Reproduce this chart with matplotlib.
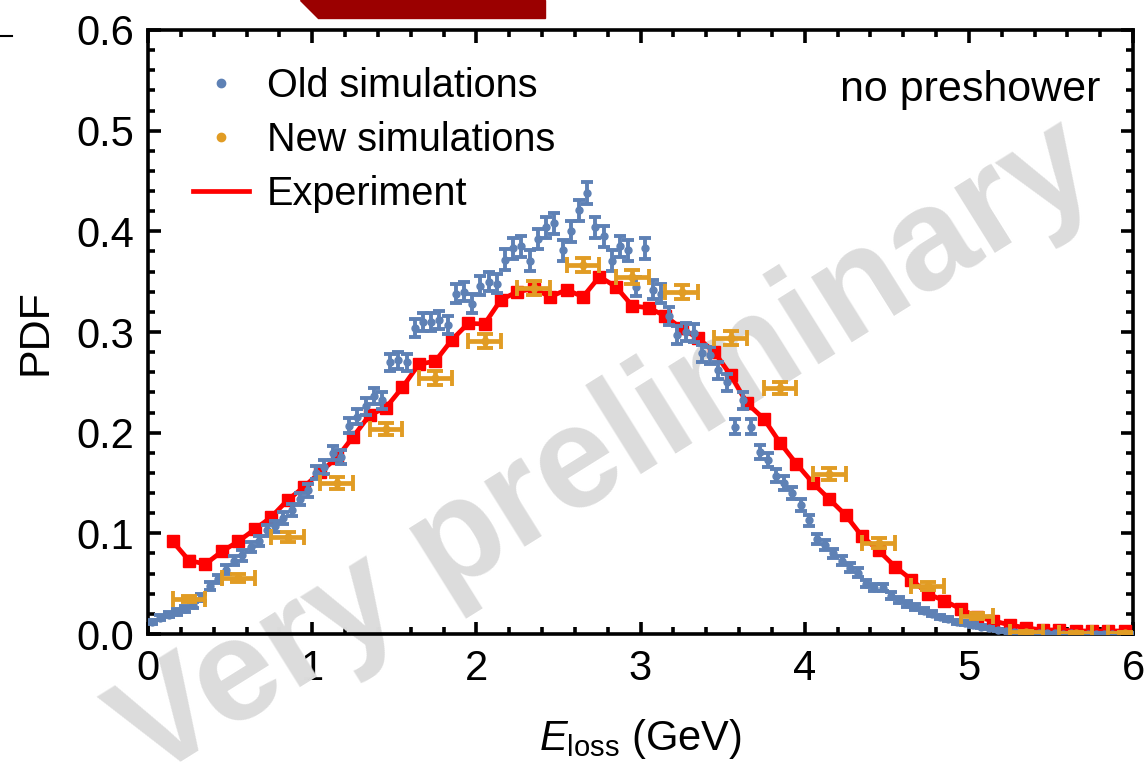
import numpy as np
import matplotlib.pyplot as plt
from matplotlib.lines import Line2D
from matplotlib.ticker import MultipleLocator, FormatStrFormatter

plt.rcParams['font.family'] = ['Liberation Sans', 'DejaVu Sans']
plt.rcParams['mathtext.fontset'] = 'custom'
plt.rcParams['mathtext.rm'] = 'Liberation Sans'
plt.rcParams['mathtext.it'] = 'Liberation Sans:italic'

BLUE = '#5e81b5'
ORANGE = '#e19c24'
RED = '#ff0000'

# old simulations, 0.05 GeV bins
old_x = np.arange(120) * 0.05 + 0.025
old_pdf = [
    0.012, 0.016, 0.019, 0.022, 0.025, 0.029, 0.036, 0.048, 0.055, 0.064,
    0.073, 0.078, 0.086, 0.092, 0.103, 0.107, 0.115, 0.123, 0.134, 0.143,
    0.160, 0.166, 0.180, 0.176, 0.207, 0.216, 0.226, 0.236, 0.232, 0.270,
    0.272, 0.270, 0.304, 0.310, 0.310, 0.312, 0.307, 0.338, 0.340, 0.328,
    0.346, 0.350, 0.348, 0.372, 0.383, 0.385, 0.371, 0.392, 0.404, 0.408,
    0.381, 0.400, 0.421, 0.438, 0.404, 0.395, 0.371, 0.385, 0.381, 0.345,
    0.383, 0.342, 0.338, 0.316, 0.297, 0.300, 0.299, 0.279, 0.277, 0.262,
    0.250, 0.206, 0.232, 0.206, 0.181, 0.173, 0.157, 0.150, 0.140, 0.128,
    0.113, 0.094, 0.088, 0.080, 0.073, 0.066, 0.061, 0.050, 0.046, 0.046,
    0.038, 0.034, 0.030, 0.027, 0.023, 0.020, 0.017, 0.015, 0.012, 0.011,
    0.009, 0.007, 0.006, 0.004, 0.003, 0.002, 0.001, 0.001, 0.0005, 0.0005,
    0.0005, 0.0003, 0.0005, 0.0003, 0.0002, 0.0003, 0.0002, 0.0002, 0.0002, 0.0002,
]
old_err = [
    0.002, 0.0025, 0.0025, 0.003, 0.003, 0.003, 0.0035, 0.004, 0.004, 0.0045,
    0.0045, 0.005, 0.005, 0.005, 0.0055, 0.0055, 0.006, 0.006, 0.006, 0.0065,
    0.0065, 0.007, 0.007, 0.007, 0.0075, 0.0075, 0.008, 0.008, 0.008, 0.0085,
    0.0085, 0.0085, 0.009, 0.009, 0.009, 0.009, 0.009, 0.0095, 0.0095, 0.0095,
    0.0095, 0.0095, 0.0095, 0.010, 0.010, 0.010, 0.010, 0.010, 0.0105, 0.0105,
    0.010, 0.0105, 0.0105, 0.011, 0.0105, 0.0105, 0.010, 0.010, 0.010, 0.0095,
    0.010, 0.0095, 0.0095, 0.009, 0.009, 0.009, 0.009, 0.0085, 0.0085, 0.0085,
    0.0085, 0.0075, 0.008, 0.0075, 0.007, 0.007, 0.0065, 0.0065, 0.0062, 0.006,
    0.0055, 0.005, 0.005, 0.0048, 0.0045, 0.0043, 0.0042, 0.0038, 0.0036, 0.0036,
    0.0033, 0.003, 0.0029, 0.0027, 0.0026, 0.0024, 0.0022, 0.002, 0.002, 0.0018,
    0.0017, 0.0015, 0.0014, 0.0012, 0.0011, 0.001, 0.001, 0.0008, 0.0008, 0.0008,
    0.0008, 0.0008, 0.0008, 0.0008, 0.0008, 0.0008, 0.0008, 0.0008, 0.0008, 0.0008,
]

# new simulations, 0.3 GeV steps
new_x = np.arange(20) * 0.3 + 0.25
new_pdf = [0.035, 0.0555, 0.096, 0.150, 0.204, 0.254, 0.291, 0.344, 0.367, 0.355,
           0.340, 0.294, 0.244, 0.159, 0.090, 0.048, 0.018, 0.002, 0.001, 0.0005]
new_err = [0.003, 0.004, 0.005, 0.006, 0.006, 0.007, 0.007, 0.007, 0.007, 0.007,
           0.007, 0.007, 0.006, 0.006, 0.005, 0.004, 0.003, 0.001, 0.001, 0.001]
new_xerr = 0.1

# experiment, 0.1 GeV bins
exp_x = np.arange(59) * 0.1 + 0.15
exp_pdf = [
    0.092, 0.073, 0.0695, 0.082, 0.092, 0.104, 0.116, 0.133, 0.146, 0.161,
    0.175, 0.196, 0.2175, 0.225, 0.245, 0.268, 0.271, 0.292, 0.3085, 0.308,
    0.332, 0.340, 0.343, 0.335, 0.342, 0.335, 0.355, 0.345, 0.326, 0.324,
    0.316, 0.3035, 0.294, 0.280, 0.257, 0.229, 0.214, 0.190, 0.169, 0.150,
    0.134, 0.118, 0.097, 0.083, 0.067, 0.054, 0.040, 0.033, 0.025, 0.017,
    0.013, 0.009, 0.006, 0.004, 0.004, 0.003, 0.003, 0.003, 0.003,
]
exp_err = [
    0.004, 0.004, 0.004, 0.004, 0.004, 0.004, 0.004, 0.004, 0.004, 0.004,
    0.004, 0.004, 0.004, 0.004, 0.004, 0.004, 0.004, 0.004, 0.004, 0.004,
    0.004, 0.004, 0.004, 0.004, 0.004, 0.004, 0.004, 0.004, 0.004, 0.004,
    0.004, 0.004, 0.004, 0.004, 0.004, 0.004, 0.004, 0.004, 0.004, 0.004,
    0.004, 0.004, 0.004, 0.004, 0.004, 0.004, 0.004, 0.004, 0.004, 0.004,
    0.003, 0.003, 0.003, 0.003, 0.003, 0.003, 0.003, 0.003, 0.003,
]

fig = plt.figure(figsize=(11.45, 7.63), dpi=100)
ax = fig.add_axes([148 / 1145, 1 - 634 / 763, 985 / 1145, 604 / 763])

ax.errorbar(exp_x, exp_pdf, yerr=exp_err, color=RED, lw=3.4, marker='s', ms=9,
            elinewidth=2.4, capsize=4.5, capthick=2.4, zorder=3)
ax.errorbar(old_x, old_pdf, yerr=old_err, color=BLUE, ls='none', marker='o', ms=5,
            elinewidth=2.8, capsize=4.5, capthick=2.8, zorder=4)
ax.errorbar(new_x, new_pdf, yerr=new_err, xerr=new_xerr, color=ORANGE, ls='none',
            marker='o', ms=5, elinewidth=3.4, capsize=6, capthick=2.8, zorder=5)

ax.set_xlim(0, 6)
ax.set_ylim(0, 0.6)
ax.xaxis.set_major_locator(MultipleLocator(1))
ax.xaxis.set_minor_locator(MultipleLocator(0.2))
ax.yaxis.set_major_locator(MultipleLocator(0.1))
ax.yaxis.set_minor_locator(MultipleLocator(0.02))
ax.yaxis.set_major_formatter(FormatStrFormatter('%.1f'))
ax.tick_params(which='both', direction='in', top=True, right=True, width=2.6,
               labelsize=30)
ax.tick_params(axis='x', pad=11)
ax.tick_params(axis='y', pad=10)
ax.tick_params(which='major', length=9)
ax.tick_params(which='minor', length=5)
for sp in ax.spines.values():
    sp.set_linewidth(2.6)
ax.set_axisbelow(True)

ax.set_xlabel(r'$E_{\mathrm{loss}}$ (GeV)', fontsize=30, labelpad=20)
ax.set_ylabel('PDF', fontsize=31, labelpad=15)

handles = [
    Line2D([], [], ls='none', marker='o', ms=6, color=BLUE),
    Line2D([], [], ls='none', marker='o', ms=6, color=ORANGE),
    Line2D([], [], color=RED, lw=3.4),
]
ax.legend(handles, ['Old simulations', 'New simulations', 'Experiment'],
          loc='upper left', bbox_to_anchor=(0.03, 0.965), frameon=False,
          fontsize=28.5, handlelength=1.4, handletextpad=0.45, labelspacing=0.4,
          borderaxespad=0)
ax.text(0.967, 0.9, 'no preshower', transform=ax.transAxes, ha='right',
        va='center', fontsize=31)

# watermark sits above tick labels, below the data
ax.text(606 / 1145, 1 - 452 / 763, 'Very preliminary', transform=fig.transFigure,
        rotation=32, rotation_mode='anchor', ha='center', va='center',
        fontsize=104, fontweight='bold', color='#dcdcdc', zorder=1, clip_on=False)

# leftovers of the neighbouring panel along the top edge
fig.patches.append(plt.Polygon([[300, 763], [545, 763], [545, 745], [318, 745]],
                               closed=True, transform=None, color='#9b0000'))
fig.text(150 / 1145, 1 - 6 / 763, '40.0', fontsize=20, va='bottom')
fig.text(690 / 1145, 1 - 6 / 763, '60.0', fontsize=20, va='bottom')
fig.lines.append(Line2D([0, 12 / 1145], [1 - 36 / 763, 1 - 36 / 763],
                        transform=fig.transFigure, color='black', lw=1.5))

fig.savefig('out.png', dpi=100)
